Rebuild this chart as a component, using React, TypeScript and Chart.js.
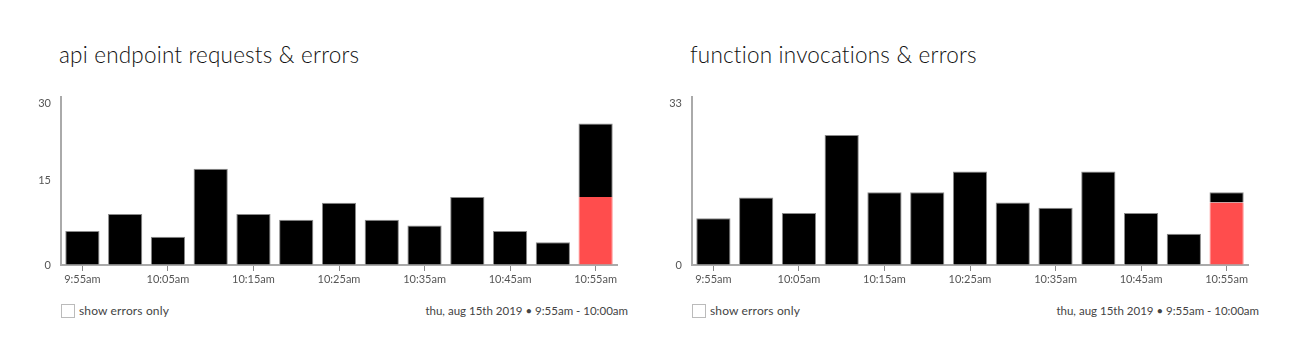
import React, { useEffect, useRef } from "react";
import { Chart, registerables } from "chart.js";

Chart.register(...registerables);

const timeLabels = [
  "9:55am", "10:00am", "10:05am", "10:10am", "10:15am", "10:20am", "10:25am",
  "10:30am", "10:35am", "10:40am", "10:45am", "10:50am", "10:55am",
];

const apiTotals = [6, 9, 5, 17, 9, 8, 11, 8, 7, 12, 6, 4, 25];
const apiErrors = [0, 0, 0, 0, 0, 0, 0, 0, 0, 0, 0, 0, 12];
const apiYTicks = [0, 15, 30];
const apiYMax = 29.7; // value at the top of the drawn y axis

const fnTotals = [9, 13, 10, 25, 14, 14, 18, 12, 11, 18, 10, 6, 14];
const fnErrors = [0, 0, 0, 0, 0, 0, 0, 0, 0, 0, 0, 0, 12];
const fnYTicks = [0, 33];
const fnYMax = 32.3; // value at the top of the drawn y axis

const FONT = "Lato, 'Noto Sans', sans-serif";

type PanelProps = {
  left: number;
  title: string;
  totals: number[];
  errors: number[];
  yTicks: number[];
  yMax: number;
};

function Panel({ left, title, totals, errors, yTicks, yMax }: PanelProps) {
  const ref = useRef<HTMLCanvasElement | null>(null);

  useEffect(() => {
    if (!ref.current) return;
    const last = yTicks.length - 1;
    const chart = new Chart(ref.current, {
      type: "bar",
      data: {
        labels: timeLabels,
        datasets: [
          {
            label: "errors",
            data: errors.map((e) => (e > 0 ? e : null)),
            backgroundColor: "#ff4d4d",
            borderColor: "#ff8585",
            borderWidth: { top: 0, left: 1, right: 1, bottom: 0 },
            borderSkipped: false,
            categoryPercentage: 1,
            barPercentage: 0.8,
          },
          {
            label: "success",
            data: totals.map((t, i) => t - errors[i]),
            backgroundColor: "#000000",
            borderColor: "#8a8a8a",
            borderWidth: 1,
            categoryPercentage: 1,
            barPercentage: 0.8,
          },
        ],
      },
      options: {
        responsive: false,
        animation: false,
        devicePixelRatio: 1,
        layout: { padding: { top: 15, right: 13, left: 0, bottom: 0 } },
        plugins: { legend: { display: false }, tooltip: { enabled: false } },
        scales: {
          x: {
            stacked: true,
            afterFit: (s: any) => {
              s.height = 23;
            },
            grid: {
              offset: false,
              drawOnChartArea: false,
              drawTicks: true,
              tickLength: 6,
              color: "#888",
              lineWidth: 1,
            },
            border: { display: true, color: "#aaaaaa", width: 2 },
            ticks: {
              autoSkip: false,
              maxRotation: 0,
              padding: 2,
              color: "#555",
              font: { family: FONT, size: 11 },
              callback: (_v: any, i: number) => (i % 2 === 0 ? timeLabels[i] : null),
            },
          },
          y: {
            stacked: true,
            min: 0,
            max: yMax,
            afterFit: (s: any) => {
              s.width = 31;
              s.paddingTop = 0;
              s.paddingBottom = 0;
            },
            afterBuildTicks: (s: any) => {
              s.ticks = yTicks.map((v, i) => ({ value: i === last ? yMax : v }));
            },
            grid: { drawOnChartArea: false, drawTicks: false },
            border: { display: true, color: "#aaaaaa", width: 2 },
            ticks: {
              padding: 10,
              color: "#555",
              font: { family: FONT, size: 11 },
              callback: (_v: any, i: number) =>
                i === last ? ["", String(yTicks[i])] : String(yTicks[i]),
            },
          },
        },
      },
    });
    return () => chart.destroy();
  }, [totals, errors, yTicks, yMax]);

  return (
    <div style={{ position: "absolute", left, top: 0, width: 631, height: 357 }}>
      <div
        style={{
          position: "absolute",
          left: 59,
          top: 40,
          fontFamily: FONT,
          fontSize: 22.5,
          fontWeight: 300,
          color: "#111",
          whiteSpace: "nowrap",
          lineHeight: "30px",
          letterSpacing: "0.2px",
        }}
      >
        {title}
      </div>
      <canvas
        ref={ref}
        width={600}
        height={206}
        style={{ position: "absolute", left: 30, top: 82, width: 600, height: 206 }}
      />
      <div
        style={{
          position: "absolute",
          left: 61,
          top: 304,
          width: 12,
          height: 12,
          border: "1px solid #bbb",
          boxSizing: "content-box",
        }}
      />
      <div
        style={{
          position: "absolute",
          left: 79,
          top: 303,
          fontFamily: FONT,
          fontSize: 12,
          color: "#444",
          lineHeight: "16px",
          whiteSpace: "nowrap",
          letterSpacing: "0.15px",
        }}
      >
        show errors only
      </div>
      <div
        style={{
          position: "absolute",
          right: 3,
          top: 303,
          fontFamily: FONT,
          fontSize: 11.5,
          color: "#444",
          lineHeight: "16px",
          whiteSpace: "nowrap",
        }}
      >
        thu, aug 15th 2019 • 9:55am - 10:00am
      </div>
    </div>
  );
}

export default function App() {
  return (
    <div
      style={{
        position: "fixed",
        left: 0,
        top: 0,
        width: 1302,
        height: 357,
        background: "#fff",
        overflow: "hidden",
      }}
    >
      <Panel
        left={0}
        title="api endpoint requests & errors"
        totals={apiTotals}
        errors={apiErrors}
        yTicks={apiYTicks}
        yMax={apiYMax}
      />
      <Panel
        left={631}
        title="function invocations & errors"
        totals={fnTotals}
        errors={fnErrors}
        yTicks={fnYTicks}
        yMax={fnYMax}
      />
    </div>
  );
}
